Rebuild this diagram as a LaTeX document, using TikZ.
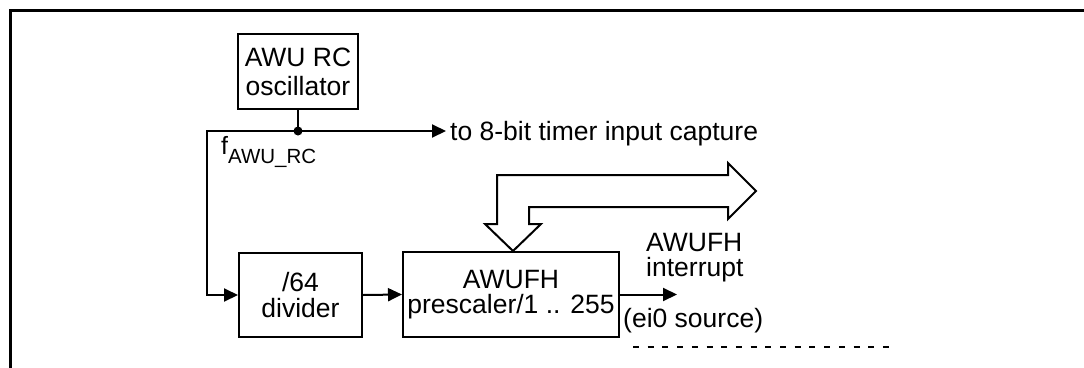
\documentclass[tikz,border=0pt]{standalone}
\usepackage{fontspec}
\setmainfont{Liberation Sans}
\usetikzlibrary{arrows.meta}
\begin{document}
\begin{tikzpicture}[x=1pt,y=-1pt,
  box/.style={draw, line width=2pt, inner sep=0pt, align=center, font=\fontsize{26.5}{25.5}\selectfont},
  lbl/.style={inner sep=0pt, font=\fontsize{26.5}{25.5}\selectfont, align=left},
  sig/.style={line width=2pt, -{Triangle[length=14pt,width=13pt]}},
  bus/.style={draw, line width=2pt, fill=white, line join=miter}]
\useasboundingbox (0,0) rectangle (1084,367);
\clip (0,0) rectangle (1084,367);
\fill[white] (0,0) rectangle (1084,367);
% frame
\draw[line width=2.6pt] (10.3,380) -- (10.3,10.3) -- (1100,10.3);
% blocks
\node[box, minimum width=120pt, minimum height=75pt, font=\fontsize{26.5}{29}\selectfont] (awu) at (298,71.5) {AWU RC\\oscillator};
\node[box, minimum width=123pt, minimum height=84pt] (div) at (300.5,295) {/64\\divider};
\node[box, minimum width=216pt, minimum height=85pt] (pre) at (511,294.5) {AWUFH\\prescaler/1 .. 255};
% labels
\node[lbl, anchor=base west] (tgt) at (450,140) {to 8-bit timer input capture};
\node[lbl, anchor=base west, font=\fontsize{25}{25}\selectfont] (f) at (221,154) {f\raisebox{-9pt}{\fontsize{20.5}{20.5}\selectfont AWU\_RC}};
\node[lbl, anchor=north west] (awufh) at (646,233) {AWUFH\\interrupt};
\node[lbl, anchor=base west] (ei0) at (623,327) {(ei0 source)};
% coordinates
\coordinate (j) at (awu.south |- 0,131);
\coordinate (lc) at (206.5,131);
\coordinate (irq) at (677,295);
\coordinate (d1) at (633,347);
\coordinate (d2) at (889,347);
% connectors
\draw[line width=2pt] (awu.south) -- (j);
\fill (j) circle (4.5pt);
\draw[sig, shorten >=4pt] (j) -- (j -| tgt.west);
\draw[sig] (j) -- (lc) |- (div.west);
\draw[sig] (div.east) -- (pre.west);
\draw[sig] (pre.east) -- (pre.east -| irq);
\draw[line width=2pt, dash pattern=on 6pt off 8.7pt] (d1) -- (d2);
% hollow bus arrow
\draw[bus] (pre.north) ++(2,0) -- ++(28,-27) -- ++(-12,0) -- ++(0,-17) -- ++(199,0) -- ++(0,12)
  -- ++(28,-28) -- ++(-28,-28) -- ++(0,12) -- ++(-231,0) -- ++(0,49) -- ++(-12,0) -- cycle;
\end{tikzpicture}
\end{document}
